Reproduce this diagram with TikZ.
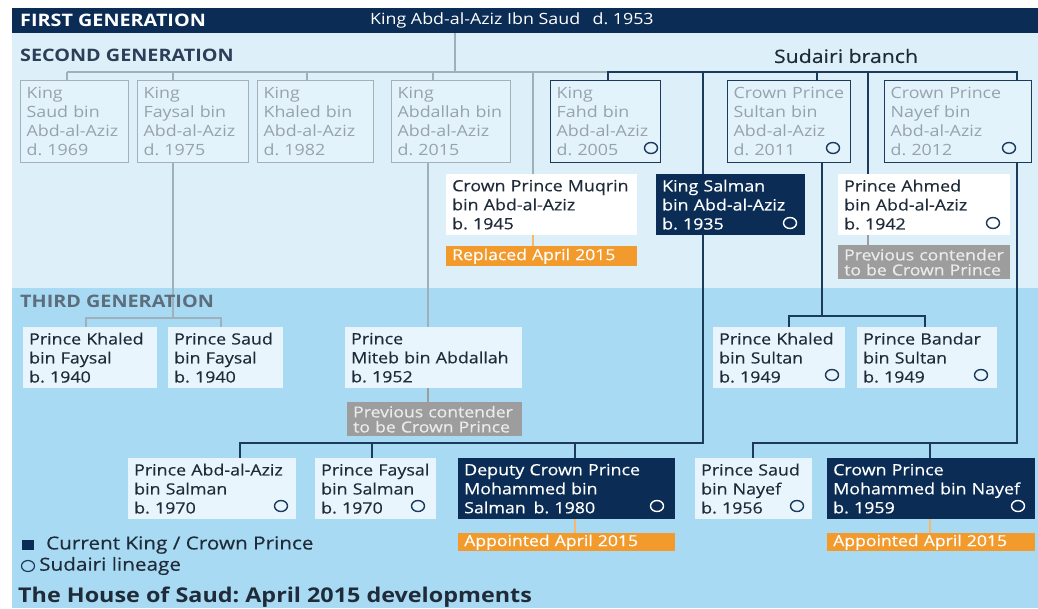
\documentclass[tikz,border=0pt]{standalone}
\usepackage{fontspec}
\setmainfont{Open Sans}[FakeStretch=1.15]
\newfontfamily\medfont{Open Sans}[FakeStretch=1.15,FakeBold=0.35]
\usetikzlibrary{calc,shapes.geometric}
\frenchspacing
\definecolor{navy}{HTML}{0B2D55}
\definecolor{bglight}{HTML}{DDF0FA}
\definecolor{bgdark}{HTML}{A8DAF3}
\definecolor{gline}{HTML}{9FB0BD}
\definecolor{nline}{HTML}{1B3A5C}
\definecolor{gtext}{HTML}{97A3AC}
\definecolor{gfill}{HTML}{E3F3FB}
\definecolor{gdraw}{HTML}{A5B0B8}
\definecolor{tfill}{HTML}{E8F5FC}
\definecolor{dtext}{HTML}{1F2B38}
\definecolor{orng}{HTML}{F39A2C}
\definecolor{glab}{HTML}{9D9D9D}
\definecolor{secgen}{HTML}{2B4058}
\definecolor{thirdgen}{HTML}{5D6D7B}
\pgfdeclarelayer{back}
\pgfdeclarelayer{lines}
\pgfsetlayers{back,lines,main}
\newcommand\bx[7]{\pgfmathsetmacro\bxw{#5-#3-12}\pgfmathsetmacro\bxh{#6-#4}%
  \node[#1, text width=\bxw pt, minimum height=\bxh pt] (#2) at (#3,#4) {#7};}
\tikzset{
 base/.style={anchor=north west, inner xsep=6pt, inner ysep=0pt, align=left, font=\fontsize{15.5}{19}\selectfont},
 gbox/.style={base, draw=gdraw, fill=gfill, text=gtext, line width=1.2pt},
 sbox/.style={base, draw=nline, fill=gfill, text=gtext, line width=1.4pt},
 wbox/.style={base, fill=white, text=dtext, font=\medfont\fontsize{15.5}{19}\selectfont},
 tbox/.style={base, fill=tfill, text=dtext, font=\medfont\fontsize{15.5}{19}\selectfont},
 nbox/.style={base, fill=navy, text=white, font=\medfont\fontsize{15.5}{19}\selectfont},
 olab/.style={base, fill=orng, text=white, font=\medfont\fontsize{15.3}{16}\selectfont},
 glabel/.style={base, fill=glab, text=white!92!black, font=\medfont\fontsize{15.3}{15}\selectfont},
 gl/.style={draw=gline, line width=1.5pt},
 nl/.style={draw=nline, line width=1.8pt},
 ol/.style={draw=orng!70!white, line width=1.3pt},
 gll/.style={draw=glab, line width=1.3pt},
 sud/.style={ellipse, draw=nline, line width=1.4pt, minimum width=13pt, minimum height=11pt, inner sep=0pt},
 sudw/.style={sud, draw=white},
 hdr/.style={anchor=west, inner sep=0pt, font=\bfseries\fontsize{17.2}{18}\selectfont},
 lbl/.style={anchor=west, inner sep=0pt, text=dtext, font=\medfont\fontsize{18}{19}\selectfont},
}
\begin{document}
\begin{tikzpicture}[x=1pt,y=-1pt]
\useasboundingbox (0,0) rectangle (1038,608);
\begin{pgfonlayer}{back}
\fill[white] (0,0) rectangle (1038,608);
\fill[bglight] (12,33) rectangle (1038,288);
\fill[bgdark] (12,288) rectangle (1038,608);
\end{pgfonlayer}
\node[anchor=north west, fill=navy, minimum width=1026pt, minimum height=25pt, inner sep=0pt] (band) at (12,8) {};
\node[hdr, text=white] (firstgen) at (20,20.5) {FIRST GENERATION};
\node[lbl, text=white, font=\fontsize{15.5}{17}\selectfont] (king) at (370,20.5) {King Abd-al-Aziz Ibn Saud\hspace{0.8em}d. 1953};
\node[hdr, text=secgen] (secgen) at (20,55) {SECOND GENERATION};
\node[inner sep=0pt, text=dtext, font=\medfont\fontsize{18.5}{19}\selectfont] (sudairi) at (846,56) {Sudairi branch};
\node[hdr, text=thirdgen] (thirdgen) at (20,301) {THIRD GENERATION};
% second generation
\bx{gbox}{saud}{20}{80}{128}{162}{King\\Saud bin\\Abd-al-Aziz\\d. 1969}
\bx{gbox}{faysal}{137}{80}{248}{162}{King\\Faysal bin\\Abd-al-Aziz\\d. 1975}
\bx{gbox}{khaled}{257}{80}{373}{162}{King\\Khaled bin\\Abd-al-Aziz\\d. 1982}
\bx{gbox}{abdallah}{391}{80}{510}{162}{King\\Abdallah bin\\Abd-al-Aziz\\d. 2015}
\bx{sbox}{fahd}{550}{80}{660}{162}{King\\Fahd bin\\Abd-al-Aziz\\d. 2005}
\bx{sbox}{sultan}{727}{80}{850}{162}{Crown Prince\\Sultan bin\\Abd-al-Aziz\\d. 2011}
\bx{sbox}{nayef}{884}{80}{1031}{162}{Crown Prince\\Nayef bin\\Abd-al-Aziz\\d. 2012}
\bx{wbox}{muqrin}{446}{174}{637}{235}{Crown Prince Muqrin\\bin Abd-al-Aziz\\b. 1945}
\bx{nbox}{salman}{656}{174}{805}{235}{King Salman\\bin Abd-al-Aziz\\b. 1935}
\bx{wbox}{ahmed}{838}{174}{1010}{235}{Prince Ahmed\\bin Abd-al-Aziz\\b. 1942}
\bx{olab}{replaced}{446}{246}{637}{266}{Replaced April 2015}
\bx{glabel}{preva}{838}{245}{1010}{279}{Previous contender\\to be Crown Prince}
% third generation
\bx{tbox}{kbf}{23}{327}{157}{388}{Prince Khaled\\bin Faysal\\b. 1940}
\bx{tbox}{sbf}{168}{327}{283}{388}{Prince Saud\\bin Faysal\\b. 1940}
\bx{tbox}{miteb}{345}{327}{522}{388}{Prince\\Miteb bin Abdallah\\b. 1952}
\bx{glabel}{prevm}{347}{402}{522}{436}{Previous contender\\to be Crown Prince}
\bx{tbox}{kbs}{713}{327}{845}{388}{Prince Khaled\\bin Sultan\\b. 1949}
\bx{tbox}{bbs}{857}{327}{997}{388}{Prince Bandar\\bin Sultan\\b. 1949}
\bx{tbox}{aas}{128}{458}{296}{519}{Prince Abd-al-Aziz\\bin Salman\\b. 1970}
\bx{tbox}{fbs}{315}{458}{436}{519}{Prince Faysal\\bin Salman\\b. 1970}
\bx{nbox}{mbs}{458}{458}{675}{519}{Deputy Crown Prince\\Mohammed bin\\Salman\enspace b. 1980}
\bx{tbox}{sbn}{695}{458}{812}{519}{Prince Saud\\bin Nayef\\b. 1956}
\bx{nbox}{mbn}{827}{458}{1035}{519}{Crown Prince\\Mohammed bin Nayef\\b. 1959}
\bx{olab}{apps}{458}{533}{675}{551}{Appointed April 2015}
\bx{olab}{appn}{827}{533}{1035}{551}{Appointed April 2015}
% Sudairi circles
\node[sud] (cfahd) at (651,148) {};
\node[sud] (csultan) at (833,148) {};
\node[sud] (cnayef) at (1009,148) {};
\node[sudw] (csalman) at (790,223) {};
\node[sud] (cahmed) at (993,223) {};
\node[sud] (ckbs) at (832,375) {};
\node[sud] (cbbs) at (981,375) {};
\node[sud] (caas) at (281,506) {};
\node[sud] (cfbs) at (418,506) {};
\node[sudw] (cmbs) at (657,506) {};
\node[sud] (csbn) at (797,506) {};
\node[sudw] (cmbn) at (1018,506) {};
% legend and title
\node[anchor=center, fill=navy, minimum width=12pt, minimum height=10pt, inner sep=0pt] (lsq) at (28,545) {};
\node[lbl] (l1) at (46,545) {Current King / Crown Prince};
\node[sud, line width=1.2pt] (lc) at (28,566) {};
\node[lbl] (l2) at (39,566) {Sudairi lineage};
\node[anchor=west, inner sep=0pt, text=dtext, font=\bfseries\fontsize{20.3}{22}\selectfont] (title) at (18,597) {The House of Saud: April 2015 developments};
% connectors
\begin{pgfonlayer}{lines}
\coordinate (j0) at (455,72); \coordinate (j1) at (67,72); \coordinate (j2) at (173,72);
\coordinate (j3) at (307,72); \coordinate (j4) at (433,72); \coordinate (j5) at (533,72);
\coordinate (j6) at (608,72);
\draw[gl] (j0 |- band.south) -- (j0);
\draw[gl] (j1) -- (j6);
\foreach \j/\b in {j1/saud, j2/faysal, j3/khaled, j4/abdallah} \draw[gl] (\j) -- (\j |- \b.north);
\draw[gl] (j5) -- (j5 |- muqrin.north);
\draw[ol] (j5 |- muqrin.south) -- (j5 |- replaced.north);
\coordinate (f0) at (173,318); \coordinate (f1) at (86,318); \coordinate (f2) at (221,318);
\draw[gl] (f0 |- faysal.south) -- (f0);
\draw[gl] (f1 |- kbf.north) -- (f1) -- (f2) -- (f2 |- sbf.north);
\coordinate (a0) at (428,200);
\draw[gl] (a0 |- abdallah.south) -- (a0 |- miteb.north);
\draw[gll] (a0 |- miteb.south) -- (a0 |- prevm.north);
\coordinate (s1) at (1017,72); \coordinate (s2) at (817,72);
\coordinate (s3) at (703,72); \coordinate (s4) at (868,72);
\draw[nl] (j6 |- fahd.north) -- (j6) -- (s1) -- (s1 |- nayef.north);
\draw[nl] (s2) -- (s2 |- sultan.north);
\draw[nl] (s3) -- (s3 |- salman.north);
\draw[nl] (s4) -- (s4 |- ahmed.north);
\draw[gll] (s4 |- ahmed.south) -- (s4 |- preva.north);
\coordinate (m0) at (703,443); \coordinate (m1) at (240,443);
\coordinate (m2) at (372,443); \coordinate (m3) at (575,443);
\draw[nl] (m0 |- salman.south) -- (m0) -- (m1) -- (m1 |- aas.north);
\draw[nl] (m2) -- (m2 |- fbs.north);
\draw[nl] (m3) -- (m3 |- mbs.north);
\draw[ol] (m3 |- mbs.south) -- (m3 |- apps.north);
\coordinate (u0) at (822,316); \coordinate (u1) at (789,316); \coordinate (u2) at (925,316);
\draw[nl] (u0 |- sultan.south) -- (u0);
\draw[nl] (u1 |- kbs.north) -- (u1) -- (u2) -- (u2 |- bbs.north);
\coordinate (n0) at (1017,443); \coordinate (n1) at (753,443); \coordinate (n2) at (930,443);
\draw[nl] (n0 |- nayef.south) -- (n0) -- (n1) -- (n1 |- sbn.north);
\draw[nl] (n2) -- (n2 |- mbn.north);
\draw[ol] (n2 |- mbn.south) -- (n2 |- appn.north);
\end{pgfonlayer}
\end{tikzpicture}
\end{document}
